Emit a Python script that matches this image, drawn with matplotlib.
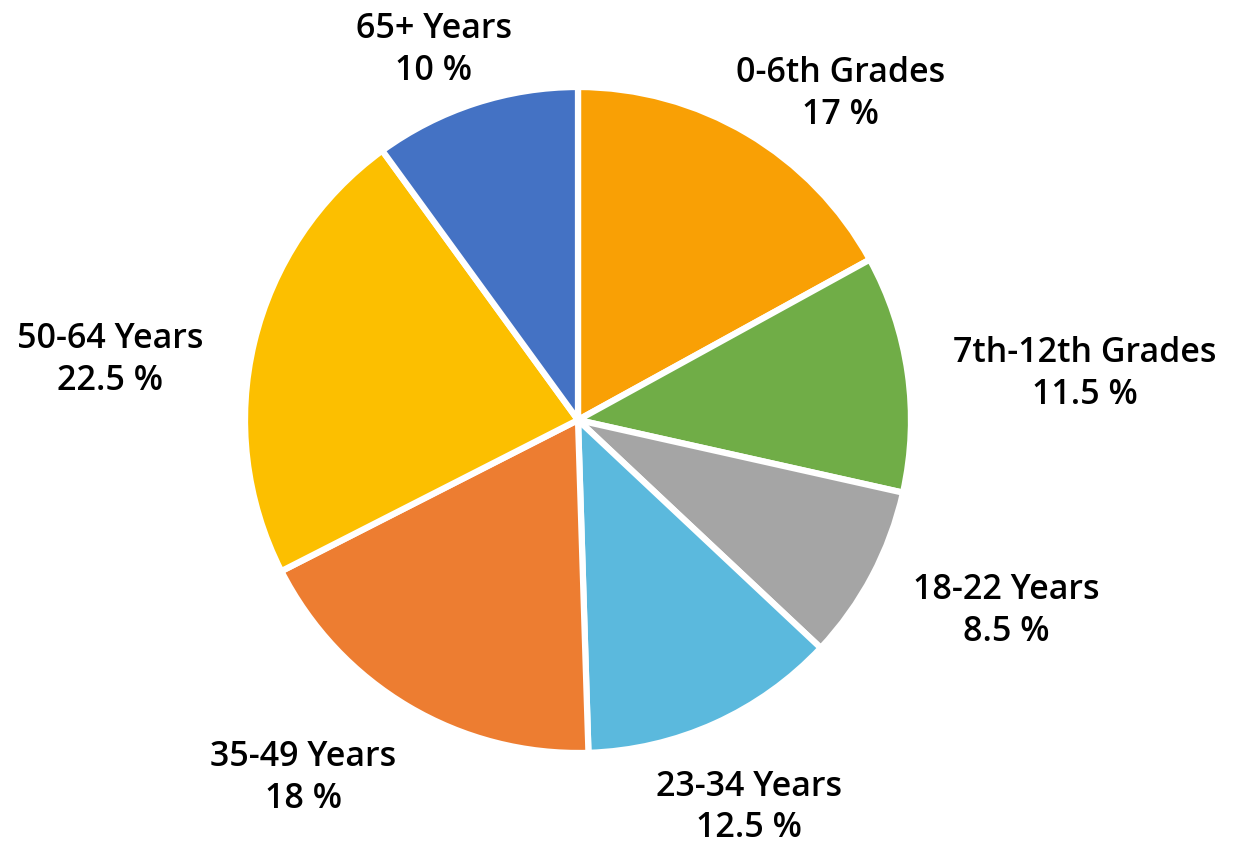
import numpy as np
import matplotlib.pyplot as plt

labels = ["0-6th Grades", "7th-12th Grades", "18-22 Years", "23-34 Years",
          "35-49 Years", "50-64 Years", "65+ Years"]
values = [17, 11.5, 8.5, 12.5, 18, 22.5, 10]
colors = ["#F9A005", "#70AD47", "#A5A5A5", "#5BB9DD", "#ED7D31", "#FCBF00", "#4472C4"]

# label placement tweaks (radius units, degrees)
label_dist = [1.27, 1.53, 1.40, 1.255, 1.34, 1.42, 1.21]
label_shift = [-7.7, -2.2, 4.5, -0.2, -7.4, 5.5, 3.0]

plt.rcParams['font.family'] = ['Open Sans', 'DejaVu Sans']

fig = plt.figure(figsize=(12.36, 8.44), dpi=100)
ax = fig.add_axes([0, 0, 1, 1])
R = 333
cx, cy = 578, 844 - 420
wedges, _ = ax.pie(values, colors=colors, startangle=90, counterclock=False,
                   radius=R, center=(cx, cy),
                   wedgeprops=dict(edgecolor='white', linewidth=4.5))

for w, lab, v, d, s in zip(wedges, labels, values, label_dist, label_shift):
    ang = np.deg2rad((w.theta1 + w.theta2) / 2 + s)
    x = cx + d * R * np.cos(ang)
    y = cy + d * R * np.sin(ang) - 6
    ax.text(x, y, f"{lab}\n{v:g} %", ha='center', va='center',
            fontsize=24.5, fontweight='semibold', linespacing=1.3, color='black')

ax.set_xlim(0, 1236)
ax.set_ylim(0, 844)
ax.set_aspect('equal')
ax.axis('off')
fig.savefig('out.png', dpi=100)
